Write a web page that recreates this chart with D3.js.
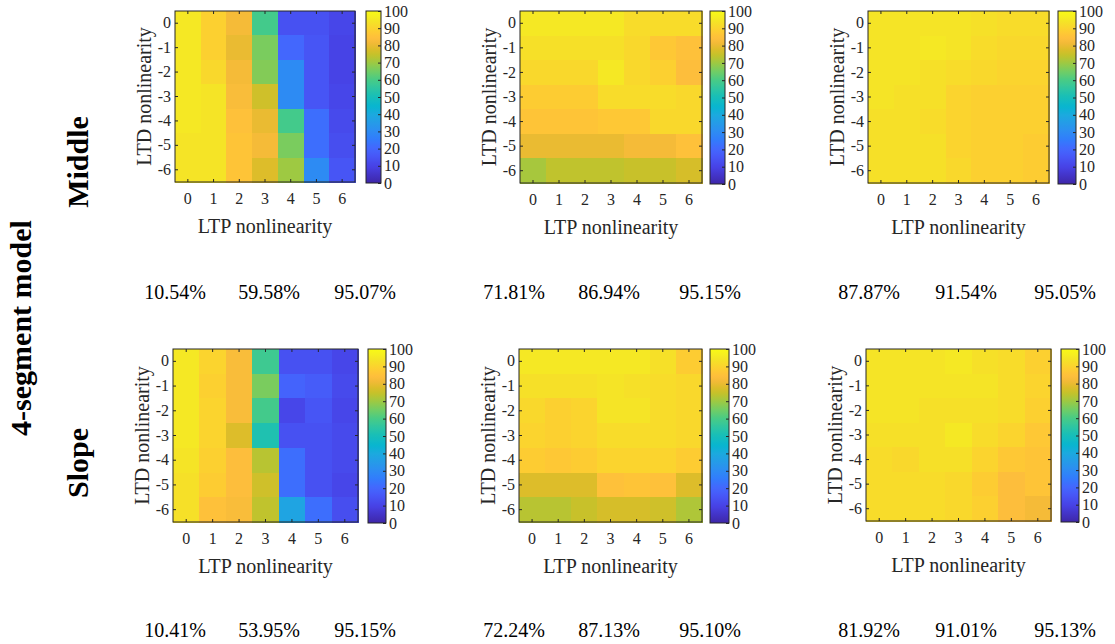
<!DOCTYPE html>
<html><head><meta charset="utf-8">
<script src="https://cdn.jsdelivr.net/npm/d3@7"></script>
<style>body{margin:0;background:#fff}svg{display:block}</style>
</head><body>
<script>
// ---------- data ----------
const ltpValues = [0, 1, 2, 3, 4, 5, 6];
const ltdValues = [0, -1, -2, -3, -4, -5, -6];
const cbTicks = [0, 10, 20, 30, 40, 50, 60, 70, 80, 90, 100];
const rowNames = ["Middle", "Slope"];
const modelName = "4-segment model";

// rows = LTD 0..-6, columns = LTP 0..6
const middleA = [
  [95, 89, 82, 59, 14, 14, 11],
  [95, 89, 80, 66, 20, 15, 10],
  [95, 91, 82, 67, 30, 15, 10],
  [95, 94, 83, 76, 30, 15, 11],
  [95, 94, 85, 80, 59, 22, 12],
  [94, 94, 86, 82, 66, 22, 13],
  [94, 94, 86, 78, 70, 30, 15]
];
const middleB = [
  [95, 95, 95, 95, 92, 92, 92],
  [93, 93, 93, 93, 91, 87, 85],
  [91, 91, 91, 95, 91, 89, 84],
  [88, 88, 88, 92, 92, 92, 91],
  [86, 86, 86, 87, 87, 91, 91],
  [80, 80, 80, 80, 82, 82, 85],
  [71, 74, 74, 74, 75, 75, 77]
];
const middleC = [
  [94, 94, 94, 94, 93, 92, 92],
  [94, 94, 95, 94, 92, 91, 91],
  [94, 94, 93, 92, 91, 90, 90],
  [94, 93, 93, 90, 89, 89, 89],
  [93, 93, 92, 90, 89, 89, 89],
  [93, 93, 93, 90, 89, 89, 88],
  [93, 93, 93, 91, 89, 89, 88]
];
const slopeA = [
  [95, 90, 83, 58, 14, 14, 11],
  [95, 89, 83, 66, 19, 17, 12],
  [95, 90, 83, 59, 11, 15, 11],
  [95, 90, 78, 52, 14, 14, 12],
  [94, 89, 84, 73, 22, 14, 12],
  [93, 88, 84, 76, 22, 14, 11],
  [93, 85, 83, 74, 38, 22, 13]
];
const slopeB = [
  [95, 95, 95, 95, 95, 93, 88],
  [93, 93, 93, 94, 93, 92, 91],
  [91, 89, 90, 94, 94, 92, 91],
  [90, 89, 90, 92, 92, 92, 91],
  [88, 87, 88, 90, 90, 90, 88],
  [78, 78, 78, 85, 86, 85, 78],
  [73, 73, 75, 77, 77, 76, 72]
];
const slopeC = [
  [94, 94, 94, 95, 93, 92, 89],
  [94, 94, 94, 94, 94, 92, 90],
  [94, 94, 93, 93, 93, 92, 89],
  [93, 93, 93, 95, 92, 90, 87],
  [92, 91, 93, 93, 90, 87, 86],
  [92, 92, 92, 91, 88, 84, 86],
  [92, 92, 92, 91, 89, 84, 82]
];
const middleStats = [["10.54%", "59.58%", "95.07%"], ["71.81%", "86.94%", "95.15%"], ["87.87%", "91.54%", "95.05%"]];
const slopeStats  = [["10.41%", "53.95%", "95.15%"], ["72.24%", "87.13%", "95.10%"], ["81.92%", "91.01%", "95.13%"]];

// parula colormap anchors (sampled from MATLAB parula(64))
const parulaColors = [
  "rgb(62,38,168)", "rgb(71,65,229)", "rgb(71,88,248)", "rgb(66,105,254)", "rgb(50,124,252)",
  "rgb(45,140,243)", "rgb(37,155,232)", "rgb(28,169,223)", "rgb(8,181,208)", "rgb(25,191,182)",
  "rgb(49,198,159)", "rgb(74,203,132)", "rgb(114,205,100)", "rgb(157,201,67)", "rgb(197,194,42)",
  "rgb(220,189,41)", "rgb(240,186,54)", "rgb(254,190,60)", "rgb(254,201,52)", "rgb(250,214,45)",
  "rgb(245,227,39)", "rgb(246,239,32)", "rgb(249,251,21)"
];
const parulaLines = [1, 7, 11, 14, 17, 20, 23, 26, 29, 33, 36, 39, 42, 45, 48, 50, 52, 54, 56, 58, 60, 62, 64];
const parulaPos = parulaLines.map(n => (n - 1) / 63 * 100);

// ---------- layout ----------
const W = 1115, H = 644;
const panels = [
  {m: middleA, x0: 175, x1: 355, y0: 11, y1: 182, cb0: 366, cb1: 381},
  {m: middleB, x0: 520, x1: 702, y0: 11, y1: 183, cb0: 710, cb1: 725},
  {m: middleC, x0: 868, x1: 1049, y0: 11, y1: 183, cb0: 1058, cb1: 1076},
  {m: slopeA, x0: 173, x1: 358, y0: 349, y1: 522, cb0: 368, cb1: 386},
  {m: slopeB, x0: 519, x1: 702, y0: 349, y1: 522, cb0: 710, cb1: 729},
  {m: slopeC, x0: 866, x1: 1051, y0: 349, y1: 521, cb0: 1061, cb1: 1079}
];
const statX = [175, 269, 365, 514, 609, 710, 869, 966, 1065];
const statY = [299, 637];

const FONT = "'Liberation Serif','Times New Roman',serif";
const AXC = "#262626";

const color = d3.scaleLinear().domain(parulaPos).range(parulaColors).interpolate(d3.interpolateRgb).clamp(true);

const svg = d3.select("body").append("svg").attr("width", W).attr("height", H)
  .style("font-family", FONT);
svg.append("rect").attr("width", W).attr("height", H).attr("fill", "#fff");

const defs = svg.append("defs");
const grad = defs.append("linearGradient").attr("id", "parula").attr("x1", 0).attr("y1", 1).attr("x2", 0).attr("y2", 0);
d3.range(0, 101, 1).forEach(v => grad.append("stop").attr("offset", v + "%").attr("stop-color", color(v)));

panels.forEach((p, i) => {
  const g = svg.append("g");
  const x = d3.scaleBand().domain(ltpValues).range([p.x0, p.x1]).padding(0);
  const y = d3.scaleBand().domain(ltdValues).range([p.y0, p.y1]).padding(0);
  const cells = [];
  p.m.forEach((row, r) => row.forEach((v, c) => cells.push({ltd: ltdValues[r], ltp: ltpValues[c], v})));
  g.selectAll("rect.cell").data(cells).join("rect").attr("class", "cell")
    .attr("x", d => x(d.ltp)).attr("y", d => y(d.ltd))
    .attr("width", x.bandwidth() + 0.5).attr("height", y.bandwidth() + 0.5)
    .attr("fill", d => color(d.v)).attr("shape-rendering", "crispEdges");
  g.append("rect").attr("x", p.x0).attr("y", p.y0).attr("width", p.x1 - p.x0).attr("height", p.y1 - p.y0)
    .attr("fill", "none").attr("stroke", AXC).attr("stroke-width", 1);

  // axes
  const xa = g.append("g").attr("transform", `translate(0,${p.y1})`)
    .call(d3.axisBottom(x).tickSizeInner(-3).tickSizeOuter(0).tickPadding(10.5));
  const ya = g.append("g").attr("transform", `translate(${p.x0},0)`)
    .call(d3.axisLeft(y).tickSizeInner(-3).tickSizeOuter(0).tickPadding(4));
  const xt = g.append("g").attr("transform", `translate(0,${p.y0})`)
    .call(d3.axisTop(x).tickSizeInner(-3).tickSizeOuter(0).tickFormat(""));
  const yr = g.append("g").attr("transform", `translate(${p.x1},0)`)
    .call(d3.axisRight(y).tickSizeInner(-3).tickSizeOuter(0).tickFormat(""));
  [xa, ya, xt, yr].forEach(a => {
    a.select(".domain").remove();
    a.selectAll("line").attr("stroke", AXC);
    a.selectAll("text").attr("fill", AXC).style("font-size", "16px").style("font-family", FONT);
  });

  g.append("text").attr("x", (p.x0 + p.x1) / 2).attr("y", p.y1 + 51)
    .attr("text-anchor", "middle").attr("fill", AXC).style("font-size", "20px")
    .text("LTP nonlinearity");
  g.append("text").attr("transform", `translate(${p.x0 - 24},${(p.y0 + p.y1) / 2}) rotate(-90)`)
    .attr("text-anchor", "middle").attr("fill", AXC).style("font-size", "20px")
    .text("LTD nonlinearity");

  // colorbar
  const cbTop = p.y0, cbBot = p.y1 + 1;
  g.append("rect").attr("x", p.cb0).attr("y", cbTop).attr("width", p.cb1 - p.cb0).attr("height", cbBot - cbTop)
    .attr("fill", "url(#parula)").attr("stroke", AXC).attr("stroke-width", 1);
  const cs = d3.scaleLinear().domain([0, 100]).range([cbBot, cbTop]);
  const ca = g.append("g").attr("transform", `translate(${p.cb1},0)`)
    .call(d3.axisRight(cs).tickValues(cbTicks).tickSizeInner(-3).tickSizeOuter(0).tickPadding(3));
  ca.select(".domain").remove();
  ca.selectAll("line").attr("stroke", AXC);
  ca.selectAll("text").attr("fill", AXC).style("font-size", "16px").style("font-family", FONT);
});

// statistics text
[middleStats, slopeStats].forEach((stats, r) => {
  const flat = stats.flat();
  svg.append("g").selectAll("text").data(flat).join("text")
    .attr("x", (d, i) => statX[i]).attr("y", statY[r])
    .attr("text-anchor", "middle").attr("fill", "#000").style("font-size", "20px")
    .text(d => d);
});

// row labels
const rowLabelY = [162, 463];
rowNames.forEach((name, i) => {
  svg.append("text").attr("transform", `translate(88,${rowLabelY[i]}) rotate(-90)`)
    .attr("text-anchor", "middle").attr("fill", "#000")
    .style("font-size", "30px").style("font-weight", "bold").text(name);
});
svg.append("text").attr("transform", `translate(31,328) rotate(-90)`)
  .attr("text-anchor", "middle").attr("fill", "#000")
  .style("font-size", "30px").style("font-weight", "bold").text(modelName);
</script>
</body></html>
